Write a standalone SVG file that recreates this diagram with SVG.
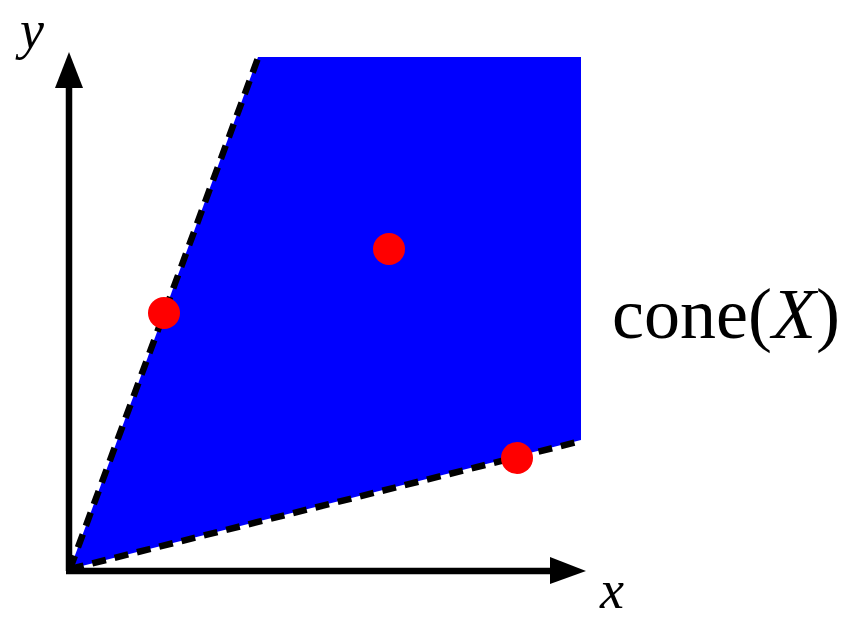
<svg xmlns="http://www.w3.org/2000/svg" width="853" height="622" viewBox="0 0 853 622">
<defs>
<style>
.axis{stroke:#000;stroke-width:6.5;fill:none}
.dash{stroke:#000;stroke-width:6.5;fill:none;stroke-dasharray:14 9}
.pt{fill:#ff0000}
.lbl{font-family:"Liberation Serif","DejaVu Serif",serif;fill:#000}
</style>
</defs>
<rect width="853" height="622" fill="#fff"/>
<g id="cone">
<polygon points="70,569 258,57 581,57 581,440" fill="#0000ff"/>
</g>
<g id="connectors">
<line class="axis" x1="69" y1="571" x2="69" y2="85"/>
<polygon points="69,52 55,88 83,88" fill="#000"/>
<line class="axis" x1="66" y1="571" x2="553" y2="571"/>
<polygon points="586,571 550,557 550,584" fill="#000"/>
<line class="dash" x1="70" y1="569" x2="258" y2="58"/>
<line class="dash" x1="70" y1="569" x2="581" y2="441"/>
</g>
<g id="points">
<circle class="pt" cx="164" cy="313" r="16"/>
<circle class="pt" cx="389" cy="249" r="16"/>
<circle class="pt" cx="517" cy="458" r="16"/>
</g>
<g id="labels">
<text class="lbl" x="20" y="48" font-size="54" font-style="italic">y</text>
<text class="lbl" x="600" y="608" font-size="54" font-style="italic">x</text>
<text class="lbl" x="612" y="338" font-size="72">cone(<tspan font-style="italic">X</tspan>)</text>
</g>
</svg>
